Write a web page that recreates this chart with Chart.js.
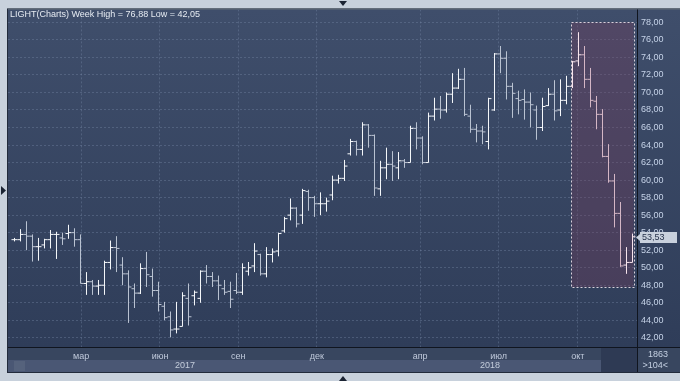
<!DOCTYPE html>
<html>
<head>
<meta charset="utf-8">
<script src="https://cdn.jsdelivr.net/npm/chart.js@4.4.1/dist/chart.umd.min.js"></script>
<style>
  html, body { margin: 0; padding: 0; background: #c8d1dc; overflow: hidden; }
  canvas { display: block; }
</style>
</head>
<body>
<canvas id="chart" width="680" height="381"></canvas>
<script>
// weekly OHLC, LIGHT, 104 weeks
const opens = [
  53.2, 53.2, 53.8, 53.6, 52.4, 52.6, 53.2, 53.8, 53.4, 53.9, 54.0, 53.2, 48.2, 48.4, 47.9, 48.0,
  50.6, 52.3, 50.3, 49.3, 47.6, 47.1, 49.9, 49.0, 47.4, 45.6, 44.4, 43.0, 43.3, 46.5, 46.8, 46.5,
  49.6, 49.0, 48.5, 47.6, 47.3, 47.4, 47.2, 49.6, 50.2, 51.5, 49.3, 51.5, 51.9, 54.2, 56.0, 56.8,
  56.0, 58.7, 58.0, 57.3, 57.3, 58.3, 60.0, 60.2, 63.0, 64.4, 63.5, 66.3, 65.1, 59.0, 61.4, 61.8,
  61.4, 62.2, 62.0, 65.9, 64.8, 62.0, 67.3, 68.1, 68.0, 69.8, 70.5, 71.5, 67.3, 65.8, 65.6, 64.4,
  68.0, 74.4, 73.9, 70.7, 69.3, 69.2, 68.9, 68.0, 66.0, 68.5, 69.8, 68.0, 69.1, 70.7, 73.6, 74.3,
  71.5, 69.0, 67.5, 62.7, 59.9, 56.2, 50.3, 50.6
];
const highs = [
  53.4, 54.4, 55.3, 53.8, 53.4, 53.3, 54.3, 54.1, 54.0, 54.9, 54.5, 53.8, 49.5, 48.6, 48.6, 50.8,
  53.1, 53.6, 51.2, 49.7, 48.2, 50.5, 51.8, 49.9, 48.4, 46.1, 45.0, 46.1, 47.2, 48.2, 47.4, 49.7,
  50.3, 49.5, 49.1, 48.6, 48.4, 49.4, 50.5, 50.65, 52.8, 51.6, 52.35, 52.2, 54.0, 55.8, 57.9, 56.9,
  59.0, 58.9, 58.2, 58.6, 58.0, 60.5, 60.6, 62.3, 64.7, 64.5, 66.6, 66.4, 65.2, 62.2, 63.7, 63.3,
  63.2, 62.4, 66.2, 66.6, 65.0, 67.7, 69.4, 69.6, 70.0, 72.2, 72.7, 72.8, 68.6, 66.4, 66.2, 69.4,
  74.5, 75.3, 74.7, 71.1, 70.2, 70.35, 70.0, 68.5, 69.4, 70.5, 71.4, 71.5, 71.9, 73.6, 76.88, 75.3,
  72.8, 69.6, 68.1, 64.1, 60.7, 57.5, 52.35, 53.9
];
const lows = [
  53.0, 53.0, 52.0, 50.7, 50.8, 52.2, 52.2, 51.0, 52.6, 53.3, 52.4, 48.2, 46.9, 46.9, 46.9, 46.9,
  49.8, 49.5, 48.0, 43.7, 45.4, 47.0, 47.8, 46.7, 45.0, 44.0, 42.05, 42.5, 43.3, 43.4, 45.7, 46.0,
  48.2, 47.8, 46.3, 46.9, 45.4, 47.0, 46.9, 49.1, 49.5, 49.1, 48.9, 50.6, 51.3, 54.0, 55.4, 54.6,
  55.0, 56.5, 55.8, 56.0, 56.4, 57.7, 59.6, 59.9, 62.8, 62.8, 62.8, 63.7, 58.2, 58.2, 60.1, 59.9,
  60.1, 61.4, 62.0, 63.5, 61.8, 62.0, 66.8, 67.0, 67.7, 68.8, 70.4, 67.3, 65.4, 64.3, 64.1, 63.5,
  67.9, 72.2, 69.2, 67.1, 67.5, 66.9, 66.0, 64.6, 65.6, 68.45, 66.8, 67.3, 68.65, 70.5, 73.0, 70.5,
  68.3, 65.8, 62.6, 59.7, 54.6, 50.1, 49.3, 50.6
];
const closes = [
  53.2, 53.8, 53.6, 52.4, 52.4, 53.2, 53.8, 53.8, 53.3, 54.0, 53.2, 48.2, 48.4, 47.9, 48.0, 50.6,
  52.3, 52.2, 49.3, 47.8, 47.1, 49.9, 49.2, 47.4, 45.8, 44.3, 42.9, 43.0, 46.8, 44.4, 47.2, 49.6,
  49.0, 48.5, 48.0, 47.2, 46.4, 47.2, 50.0, 50.0, 51.9, 49.3, 51.5, 51.8, 53.9, 55.6, 56.8, 55.0,
  58.8, 58.0, 57.3, 57.3, 57.6, 60.0, 60.2, 61.6, 64.4, 63.5, 66.3, 65.1, 59.1, 61.4, 61.8, 61.6,
  62.2, 62.0, 65.9, 64.8, 62.0, 67.3, 68.1, 68.0, 69.8, 70.5, 71.5, 67.5, 65.8, 65.6, 65.5, 69.3,
  74.4, 73.9, 70.7, 69.9, 69.1, 68.9, 68.6, 66.0, 68.4, 69.8, 67.9, 69.1, 70.7, 73.5, 74.3, 71.5,
  69.1, 67.5, 62.7, 59.9, 56.2, 50.2, 50.6, 53.53
];

// x axis: week index; month marks and years
const monthLabels = ['мар', 'июн', 'сен', 'дек', 'апр', 'июл', 'окт'];
const monthPos = [11.1, 24.25, 37.3, 50.4, 67.6, 80.7, 93.9];
const yearLabels = ['2017', '2018'];
const yearPos = [28.4, 79.25];

// marked zone (last weeks)
const zoneFrom = 92.83, zoneTo = 103.17, zoneLow = 47.8, zoneHigh = 78.0;
const zoneFirstBar = 93;

const title = 'LIGHT(Charts) Week High = 76,88 Low = 42,05';
const barsCount = '1863';
const shownCount = '>104<';

const FONT = 'Liberation Sans, Arial, sans-serif';
const fmt = v => v.toFixed(2).replace('.', ',');

function barColor(i){
  const up = closes[i] >= opens[i];
  if (i >= zoneFirstBar) return up ? '#f7e4ec' : '#d4b6c5';
  return up ? '#f6f8fb' : '#bcc4d3';
}

const hlPts = [], openPts = [], closePts = [];
opens.forEach((o, i) => {
  hlPts.push({x: i, y: lows[i]}, {x: i, y: highs[i]}, {x: i, y: null});
  openPts.push({x: i - 0.5, y: o}, {x: i, y: o}, {x: i, y: null});
  closePts.push({x: i, y: closes[i]}, {x: i + 0.5, y: closes[i]}, {x: i + 0.5, y: null});
});

function mkSet(data){
  return {
    data, showLine: true, spanGaps: false, pointRadius: 0, borderWidth: 1, tension: 0,
    borderColor: '#f3f5f9',
    segment: { borderColor: s => barColor(Math.floor(s.p0DataIndex / 3)) }
  };
}

const frame = {
  id: 'frame',
  beforeDraw(chart){
    const { ctx, chartArea: a, width, height } = chart;
    ctx.save();
    ctx.fillStyle = '#c8d1dc';
    ctx.fillRect(0, 0, width, height);
    const g = ctx.createLinearGradient(0, a.top, 0, a.bottom);
    g.addColorStop(0, '#3f4e6b');
    g.addColorStop(1, '#2f3d59');
    ctx.fillStyle = g;
    ctx.fillRect(a.left, a.top, width - a.left, a.bottom - a.top);
    // bottom strip
    ctx.fillStyle = '#38465f';
    ctx.fillRect(a.left, a.bottom, width - a.left, 25);
    ctx.fillStyle = '#4a5774';
    ctx.fillRect(a.left, a.bottom + 13, 593, 12);
    ctx.fillStyle = '#55627c';
    ctx.fillRect(14, a.bottom + 14, 11, 10);
    ctx.fillStyle = '#2e3a54';
    ctx.fillRect(601, a.bottom + 1, a.right - 601, 24);
    // small arrows
    ctx.fillStyle = '#1b2433';
    ctx.beginPath(); ctx.moveTo(339, 1); ctx.lineTo(347, 1); ctx.lineTo(343, 6); ctx.fill();
    ctx.beginPath(); ctx.moveTo(339, 381); ctx.lineTo(347, 381); ctx.lineTo(343, 376); ctx.fill();
    ctx.beginPath(); ctx.moveTo(1, 186); ctx.lineTo(1, 195); ctx.lineTo(6, 190.5); ctx.fill();
    ctx.restore();
  },
  beforeDatasetsDraw(chart){
    const { ctx, scales: { x, y } } = chart;
    const l = x.getPixelForValue(zoneFrom), r = x.getPixelForValue(zoneTo);
    const t = y.getPixelForValue(zoneHigh), b = y.getPixelForValue(zoneLow);
    ctx.save();
    ctx.fillStyle = 'rgba(120, 60, 90, 0.32)';
    ctx.fillRect(l, t, r - l, b - t);
    ctx.restore();
  },
  afterDraw(chart){
    const { ctx, chartArea: a, width, scales: { x, y } } = chart;
    ctx.save();
    // zone border
    const l = Math.round(x.getPixelForValue(zoneFrom)) + 0.5, r = Math.round(x.getPixelForValue(zoneTo)) + 0.5;
    const t = Math.round(y.getPixelForValue(zoneHigh)) + 0.5, b = Math.round(y.getPixelForValue(zoneLow)) + 0.5;
    ctx.strokeStyle = '#d9d0da';
    ctx.lineWidth = 1;
    ctx.setLineDash([2, 2]);
    ctx.strokeRect(l, t, r - l, b - t);
    ctx.setLineDash([]);
    // frame lines
    ctx.strokeStyle = '#10151f';
    ctx.beginPath();
    ctx.moveTo(a.right + 0.5, a.top); ctx.lineTo(a.right + 0.5, a.bottom + 25);
    ctx.moveTo(a.left, a.bottom + 0.5); ctx.lineTo(width, a.bottom + 0.5);
    ctx.stroke();
    ctx.strokeStyle = '#222b3b';
    ctx.strokeRect(a.left - 0.5, a.top - 0.5, width - a.left + 1, a.bottom + 25 - a.top + 1);
    // title
    ctx.font = '9px ' + FONT;
    ctx.fillStyle = '#e6ebf2';
    ctx.textBaseline = 'middle';
    ctx.textAlign = 'left';
    ctx.fillText(title, 10, 15);
    // years
    ctx.fillStyle = '#c4cddc';
    ctx.textAlign = 'center';
    yearLabels.forEach((s, k) => ctx.fillText(s, x.getPixelForValue(yearPos[k]), a.bottom + 19));
    // counters
    ctx.fillStyle = '#c4d0e2';
    ctx.textAlign = 'right';
    ctx.fillText(barsCount, 668, a.bottom + 8);
    ctx.fillText(shownCount, 668, a.bottom + 19);
    // last value box
    const last = closes[closes.length - 1];
    const py = Math.round(y.getPixelForValue(last));
    ctx.fillStyle = '#c9d1dd';
    ctx.fillRect(640, py - 5, 37, 11);
    ctx.beginPath(); ctx.moveTo(636, py + 0.5); ctx.lineTo(640, py - 3); ctx.lineTo(640, py + 4); ctx.fill();
    ctx.fillStyle = '#26324a';
    ctx.textAlign = 'left';
    ctx.fillText(fmt(last), 642, py + 0.5);
    ctx.restore();
  }
};

new Chart(document.getElementById('chart'), {
  type: 'line',
  data: { datasets: [mkSet(hlPts), mkSet(openPts), mkSet(closePts)] },
  options: {
    responsive: false,
    animation: false,
    devicePixelRatio: 1,
    layout: { padding: { left: 8, top: 8, right: 0, bottom: 9 } },
    plugins: { legend: { display: false }, tooltip: { enabled: false } },
    scales: {
      x: {
        type: 'linear', min: -1.0833, max: 103.75,
        afterFit: s => { s.height = 25; },
        afterBuildTicks: s => { s.ticks = monthPos.map(v => ({ value: v })); },
        grid: { color: 'rgba(118,134,165,0.4)', drawTicks: false },
        border: { display: false, dash: [2, 2] },
        ticks: {
          autoSkip: false, maxRotation: 0, padding: 4,
          color: '#c0cadb', font: { family: FONT, size: 9 },
          callback: (v, i) => monthLabels[i]
        }
      },
      y: {
        position: 'right', min: 40.95, max: 79.48,
        afterFit: s => { s.width = 43; },
        grid: { color: 'rgba(118,134,165,0.4)', drawTicks: false },
        border: { display: false, dash: [2, 2] },
        ticks: {
          stepSize: 2, includeBounds: false, padding: 4,
          color: '#c6d3e8', font: { family: FONT, size: 9 },
          callback: v => fmt(v)
        }
      }
    }
  },
  plugins: [frame]
});
</script>
</body>
</html>
